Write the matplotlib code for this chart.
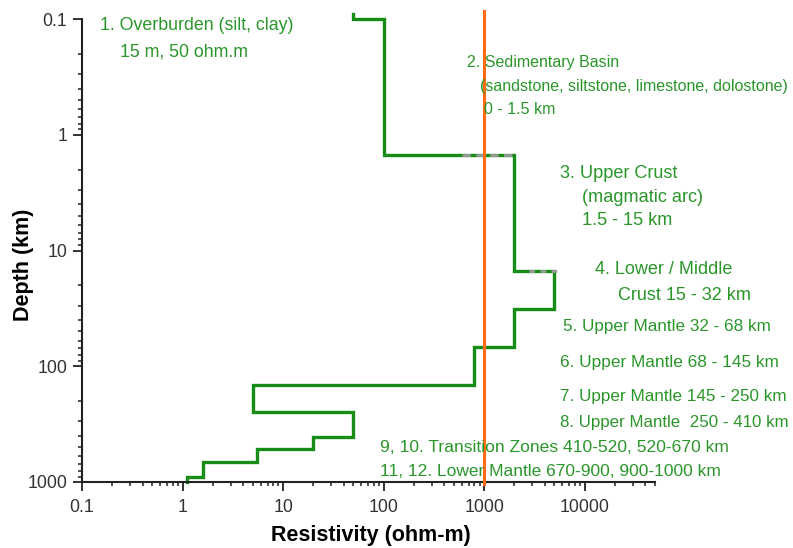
import matplotlib
matplotlib.use('Agg')
import matplotlib.pyplot as plt
from matplotlib.ticker import LogLocator, FixedLocator, NullFormatter

# layer model: resistivity (ohm-m) per layer, with top/bottom depth (km)
layer_res = [50, 100, 2000, 5000, 2000, 800, 5, 50, 20, 5.5, 1.6, 1.1]
layer_top = [0.09, 0.1, 1.5, 15, 32, 68, 145, 250, 410, 520, 670, 900]
layer_bot = [0.1, 1.5, 15, 32, 68, 145, 250, 410, 520, 670, 900, 1000]

ref_res = 1000  # orange reference line

x_ticks = [0.1, 1, 10, 100, 1000, 10000]
x_labels = ['0.1', '1', '10', '100', '1000', '10000']
y_ticks = [0.1, 1, 10, 100, 1000]
y_labels = ['0.1', '1', '10', '100', '1000']

# annotation lines: (text, x px, y px, fontsize)
notes = [
    ('1. Overburden (silt, clay)', 100, 25, 12.8),
    ('15 m, 50 ohm.m', 120, 52, 12.8),
    ('2. Sedimentary Basin', 467, 63, 11.5),
    ('(sandstone, siltstone, limestone, dolostone)', 480, 87, 11.5),
    ('0 - 1.5 km', 484, 110, 11.5),
    ('3. Upper Crust', 560, 173, 13.1),
    ('(magmatic arc)', 582, 197, 13.1),
    ('1.5 - 15 km', 582, 220, 13.1),
    ('4. Lower / Middle', 595, 269, 13.0),
    ('Crust 15 - 32 km', 618, 295, 13.0),
    ('5. Upper Mantle 32 - 68 km', 563, 327, 12.3),
    ('6. Upper Mantle 68 - 145 km', 560, 362, 12.4),
    ('7. Upper Mantle 145 - 250 km', 560, 396, 12.3),
    ('8. Upper Mantle  250 - 410 km', 560, 422, 12.2),
    ('9, 10. Transition Zones 410-520, 520-670 km', 380, 447, 12.6),
    ('11, 12. Lower Mantle 670-900, 900-1000 km', 380, 472, 12.5),
]

W, H = 793, 548
plt.rcParams['font.family'] = ['Liberation Sans', 'DejaVu Sans']

fig = plt.figure(figsize=(W / 100, H / 100), dpi=100)
ax = fig.add_axes([82 / W, 1 - 482 / H, (655 - 82) / W, (482 - 19) / H])

# build stepped profile
xs, ys = [], []
for r, t, b in zip(layer_res, layer_top, layer_bot):
    xs += [r, r]
    ys += [t, b]

# faint grey dashes peeking out at two steps
ax.plot([600, 2000], [1.5, 1.5], color='#9a9a9a', lw=2, ls=(0, (3, 2)), zorder=3)
ax.plot([2800, 5600], [15, 15], color='#9a9a9a', lw=2, ls=(0, (2, 2)), zorder=3)

ax.plot(xs, ys, color='#178c17', lw=2.4, solid_joinstyle='miter', clip_on=False, zorder=2)
ax.plot([ref_res, ref_res], [0.085, 1050], color='#ff6a13', lw=2.2, clip_on=False, zorder=4)

ax.set_xscale('log')
ax.set_yscale('log')
ax.set_xlim(0.1, 50000)
ax.set_ylim(1000, 0.1)

ax.xaxis.set_major_locator(FixedLocator(x_ticks))
ax.set_xticklabels(x_labels)
ax.xaxis.set_minor_locator(LogLocator(base=10, subs=range(2, 10), numticks=20))
ax.xaxis.set_minor_formatter(NullFormatter())
ax.yaxis.set_major_locator(FixedLocator(y_ticks))
ax.set_yticklabels(y_labels)
ax.yaxis.set_minor_locator(LogLocator(base=10, subs=range(2, 10), numticks=20))
ax.yaxis.set_minor_formatter(NullFormatter())

for s in ['top', 'right']:
    ax.spines[s].set_visible(False)
for s in ['left', 'bottom']:
    ax.spines[s].set_linewidth(1.5)
    ax.spines[s].set_color('#222222')

ax.tick_params(which='major', length=6.5, width=1.3, color='#222222',
               labelsize=12.8, labelcolor='#333333')
ax.tick_params(axis='x', which='major', pad=6)
ax.tick_params(axis='y', which='major', pad=4)
ax.tick_params(which='minor', length=3.2, width=1.1, color='#222222')

ax.set_xlabel('Resistivity (ohm-m)', fontsize=15.5, fontweight='bold')
ax.set_ylabel('Depth (km)', fontsize=15.5, fontweight='bold')
ax.xaxis.set_label_coords((371 - 82) / (655 - 82), -(535 - 482) / (482 - 19))
ax.yaxis.set_label_coords(-(82 - 23) / (655 - 82), (482 - 265) / (482 - 19))
ax.xaxis.label.set_va('center')
ax.yaxis.label.set_va('center')

for txt, px, py, fs in notes:
    fig.text(px / W, 1 - py / H, txt, color='#2a962a', fontsize=fs,
             ha='left', va='center')

fig.savefig('out.png', dpi=100)
